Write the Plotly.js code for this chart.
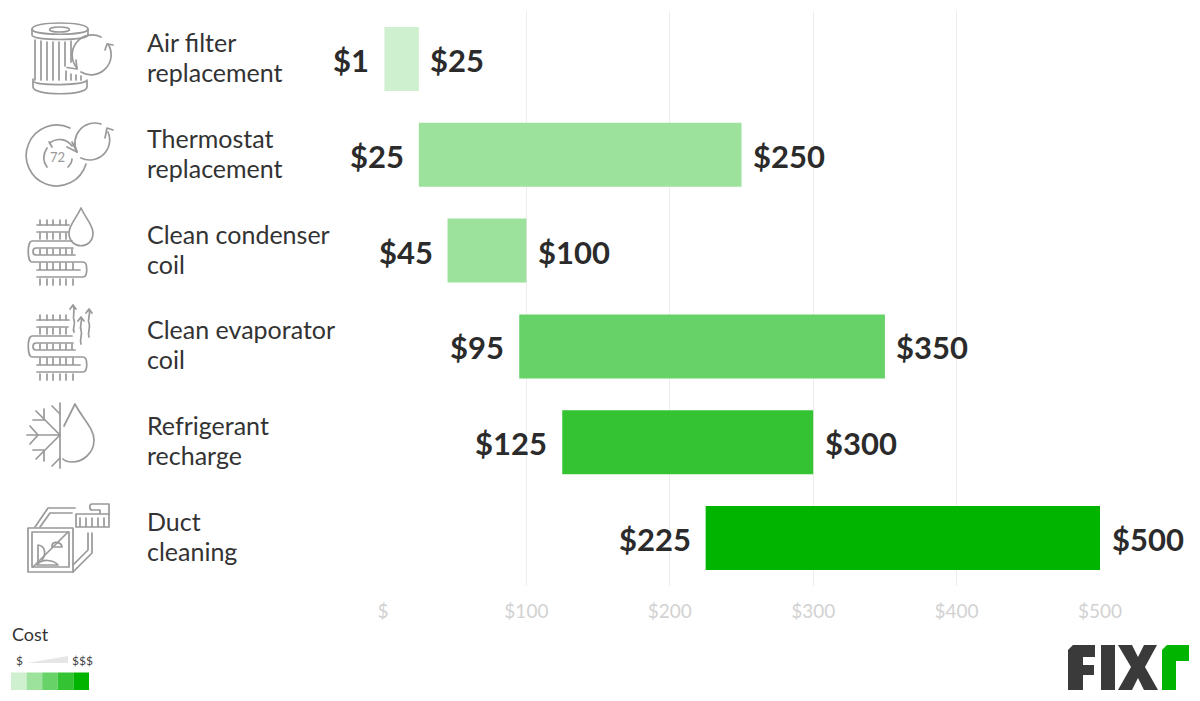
<!DOCTYPE html>
<html><head><meta charset="utf-8">
<script src="https://cdn.plot.ly/plotly-3.0.1.min.js"></script>
<style>html,body{margin:0;padding:0;background:#fff}#chart{width:1200px;height:701px}</style>
</head><body><div id="chart"></div>
<script>
const categories = ["Air filter<br>replacement","Thermostat<br>replacement","Clean condenser<br>coil","Clean evaporator<br>coil","Refrigerant<br>recharge","Duct<br>cleaning"];
const lowCost = [1,25,45,95,125,225];
const highCost = [25,250,100,350,300,500];
const barColors = ["#CEF0CE","#9CE19C","#9CE19C","#67D267","#33C333","#00B400"];
const scaleColors = ["#CEF0CE","#9CE19C","#67D267","#33C333","#00B400"];
const tickValues = [0,100,200,300,400,500];
const tickLabels = ["$","$100","$200","$300","$400","$500"];

const W=1200,H=701,ML=383,MR=100,MT=11,MB=115;
const PW=W-ML-MR,PH=H-MT-MB;
const ic='#999';
function svgUri(w,h,body){
  const s=`<svg xmlns="http://www.w3.org/2000/svg" width="${w}" height="${h}" viewBox="0 0 ${w} ${h}"><g fill="none" stroke="${ic}" stroke-width="1.7" stroke-linecap="round" stroke-linejoin="round">${body}</g></svg>`;
  return 'data:image/svg+xml;base64,'+btoa(s);
}
const iconFilter=`<g>
<path d="M32 29 C32 21 88 21 88 29 L88 35 C88 41 32 41 32 35 Z"/><path d="M32 29 C32 36 88 36 88 29"/><ellipse cx="59.5" cy="29.5" rx="10" ry="2.5"/>
<path d="M35 40 V80 M41 41 V80 M47 42 V80 M53 42 V80 M59 42 V80 M65 42 V66 M71 41 V62"/><path d="M66 71V80 M71 74V80 M76 75 V80 M81 76V80"/>
<path d="M33 79 L33 87 C33 96 87 96 87 87 L87 81 M33 81 C35 86 85 86 87 80"/>
<path d="M77 68 A20 20 0 0 1 101 37" /><path d="M67 67.5 L77 69 L76 60"/>
<path d="M108 44 A20 20 0 0 1 81 72"/><path d="M105 50 L107 44 L113 45"/></g>`;
const iconThermo=`<g><path d="M70 128 A30.5 30.5 0 1 0 86 164"/><path d="M50 143 A15 15 0 0 1 72 146 M67 147 L77 152 L72 142"/><path d="M47 148 C42 156 44 163 47 167 M72 159 C72 163 70 165 68 167"/><path d="M49 142 L52 147"/>
<text x="57.5" y="162" font-family="Lato" font-size="13" fill="${ic}" stroke="none" text-anchor="middle">72</text>
<path d="M101 124 A20 20 0 0 0 77 152"/><path d="M108 132 A20 20 0 0 1 81 158"/><path d="M105 138 L107 128 L113 130"/></g>`;
function coil(){return `<g>
<path d="M37 22 H69 M37 29 H68"/><path d="M40 17V22 M47 17V22 M53 17V22 M60 17V22 M66 17V22 M40 30V36 M47 30V36 M53 30V36 M60 30V36 M66 30V36"/>
<path d="M72 38 H32 C27 38 27 59 32 59 H83 C88 59 88 74 83 74 H37"/>
<path d="M73 45 H36 C32 45 32 52 36 52 H75"/>
<path d="M40 46V51 M47 46V51 M53 46V51 M60 46V51 M66 46V51 M72 46V51"/>
<path d="M37 67 H80 M40 60V67 M47 60V67 M53 60V67 M60 60V67 M66 60V67 M73 60V67"/>
<path d="M40 76V82 M47 76V82 M53 76V82 M60 76V82 M66 76V82 M73 76V82"/></g>`;}
const iconCond=`<g transform="translate(0,203)">${coil()}<path d="M81 5 C76 16 69 22 69 30 C69 47 93 47 93 30 C93 22 86 16 81 5 Z"/></g>`;
const iconEvap=`<g transform="translate(0,298)">${coil()}
<path d="M74 34 C72 30 76 26 74 22 C72 18 76 14 73 7 M70 11 L73 7 L76 11"/><path d="M81 46 C79 41 83 37 81 32 C79 28 83 24 81 19 M78 23 L81 19 L84 23"/><path d="M89 39 C87 34 91 30 89 25 C87 21 91 17 89 11 M86 15 L89 11 L92 15"/></g>`;
const iconRef=`<g transform="translate(0,390)"><path d="M60 13 V78"/><path d="M27 45 H60 M60 45 L36 21 M60 45 L36 69"/><path d="M30 36 L38 45 L30 54 M44 19 V30 H33 M44 71 V60 H33 M52 16 L60 24 M52 76 L60 68"/>
<path d="M64 36 L75 14 C82 28 94 38 94 50 C94 64 82 72 72 72 C68 72 65 71 63 69"/></g>`;
const iconDuct=`<g transform="translate(0,390)"><rect x="28" y="138" width="45" height="44"/><rect x="32" y="142" width="37" height="35"/>
<path d="M33 177 L68 142"/><path d="M35 137 L48 118 H75 M40 137 L50 123 H72"/><path d="M73 175 L88 160 V143 M73 182 L92 163 V143"/>
<path d="M38 172 V155 C46 156 46 165 42 170 M52 155 C54 150 62 153 62 157 H52 Z M37 175 C42 168 54 170 58 175 Z"/>
<path d="M76 127 V124 H109 V137 H76 Z M80 128 V137 M86 128 V137 M92 128 V137 M98 128 V137 M104 128 V137"/>
<path d="M109 124 V114 H92 C89 114 89 120 92 120 H100 V123"/></g>`;
const iconsSvg = svgUri(140,600,iconFilter+iconThermo+iconCond+iconEvap+iconRef+iconDuct);

const px=x=>(x-ML)/PW, py=y=>1-(y-MT)/PH;
function pathP(points){return 'M'+points.map(p=>px(p[0]).toFixed(5)+','+py(p[1]).toFixed(5)).join(' L')+' Z';}
const shapes=[];
function poly(points,fill){shapes.push({type:'path',xref:'paper',yref:'paper',path:pathP(points),fillcolor:fill,line:{width:0},layer:'above'});}
const dark='#3A3A3A';
poly([[1073,645],[1095,645],[1095,657],[1083,657],[1083,665],[1094,665],[1094,675],[1083,675],[1083,690],[1068,690],[1068,650]],dark);
poly([[1101,645],[1115,645],[1115,690],[1101,690]],dark);
poly([[1118,645],[1132,645],[1138,657],[1144,645],[1157,645],[1145,667],[1158,690],[1144,690],[1138,678],[1132,690],[1118,690],[1131,667]],dark);
poly([[1167,645],[1189,645],[1189,661],[1176,661],[1176,690],[1162,690],[1162,650]],'#00B400');
poly([[27,663],[68,656],[68,663]],'#E6E6E6');
scaleColors.forEach((c,i)=>poly([[11+15.6*i,672.5],[11+15.6*(i+1),672.5],[11+15.6*(i+1),690],[11+15.6*i,690]],c));

const anns=[];
categories.forEach((c,i)=>{
  c.split('<br>').forEach((line,k)=>{
    anns.push({xref:'paper',x:px(144.5),yref:'y',y:c,xanchor:'left',yanchor:'middle',align:'left',text:line,showarrow:false,font:{family:'Lato',size:25,color:'#333'},yshift:k===0?17:-13});
  });
  anns.push({xref:'x',x:lowCost[i],yref:'y',y:c,xanchor:'right',yanchor:'middle',xshift:-13,yshift:-1,text:'$'+lowCost[i],showarrow:false,font:{family:'Lato',size:31,color:'#2B2B2B',weight:700}});
  anns.push({xref:'x',x:highCost[i],yref:'y',y:c,xanchor:'left',yanchor:'middle',xshift:9.5,yshift:-1,text:'$'+highCost[i],showarrow:false,font:{family:'Lato',size:31,color:'#2B2B2B',weight:700}});
});
function legendText(t,x,y,size,color){anns.push({xref:'paper',yref:'paper',x:px(x),y:py(y),xanchor:'left',yanchor:'middle',text:t,showarrow:false,font:{family:'Lato',size:size,color:color}});}
legendText('Cost',10,634,18,'#333');
legendText('$',14,660,12,'#444');
legendText('$$$',70,660,12,'#444');

Plotly.newPlot('chart',[{
  type:'bar',orientation:'h',y:categories,base:lowCost,x:highCost.map((h,i)=>h-lowCost[i]),
  marker:{color:barColors,line:{width:0}},width:0.668,hoverinfo:'skip'
}],{
  width:W,height:H,paper_bgcolor:'#fff',plot_bgcolor:'#fff',showlegend:false,
  margin:{l:ML,r:MR,t:MT,b:MB,pad:0},
  xaxis:{range:[0,500],tickvals:tickValues,ticktext:tickLabels,showgrid:true,gridcolor:'#EDEDED',gridwidth:1,zeroline:false,showline:false,ticks:'',ticklabelstandoff:12,
    tickfont:{family:'Lato',size:19,color:'#D2D2D2'},automargin:false},
  yaxis:{autorange:false,range:[5.5,-0.5],showticklabels:false,showgrid:false,zeroline:false,showline:false,ticks:'',type:'category',automargin:false},
  annotations:anns,shapes:shapes,
  images:[{source:iconsSvg,xref:'paper',yref:'paper',x:px(0),y:py(0),sizex:140/PW,sizey:600/PH,xanchor:'left',yanchor:'top',sizing:'stretch',layer:'above'}]
},{displayModeBar:false,staticPlot:true});
</script></body></html>
